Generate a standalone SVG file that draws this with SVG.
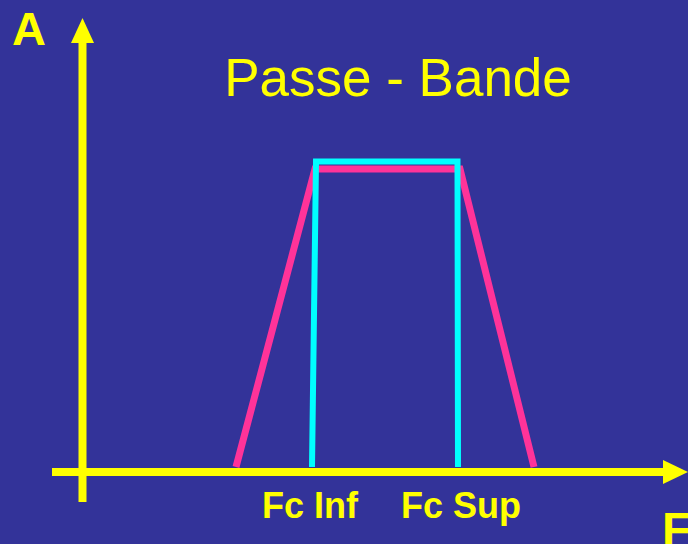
<svg xmlns="http://www.w3.org/2000/svg" width="688" height="544" viewBox="0 0 688 544">
<style>
.lbl{font-family:"Liberation Sans",Arial,sans-serif;fill:#FFFF00}
.b{font-weight:bold}
.axis{stroke:#FFFF00;stroke-width:8;fill:none}
.pink{stroke:#FF3399;stroke-width:7;fill:none;stroke-linejoin:miter}
.cyan{stroke:#00FFFF;stroke-width:6;fill:none;stroke-linejoin:miter}
</style>
<rect width="688" height="544" fill="#333399"/>
<g id="axes">
<line class="axis" x1="82.5" y1="40" x2="82.5" y2="502"/>
<polygon points="71,43 94,43 82.5,18" fill="#FFFF00"/>
<line class="axis" x1="52" y1="472" x2="665" y2="472"/>
<polygon points="663,460 663,484 688,472" fill="#FFFF00"/>
</g>
<g id="curves">
<polyline class="pink" points="236,467 315,169 460,169 534,467"/>
<polyline class="cyan" points="312,467 316,161.5 457.5,161.5 458,467"/>
</g>
<g id="labels">
<text class="lbl b" x="12" y="45" font-size="47">A</text>
<text class="lbl" x="398" y="96" font-size="53" text-anchor="middle">Passe - Bande</text>
<text class="lbl b" x="262" y="518" font-size="36">Fc Inf</text>
<text class="lbl b" x="401" y="518" font-size="36">Fc Sup</text>
<text class="lbl b" x="662" y="545" font-size="47">F</text>
</g>
</svg>
